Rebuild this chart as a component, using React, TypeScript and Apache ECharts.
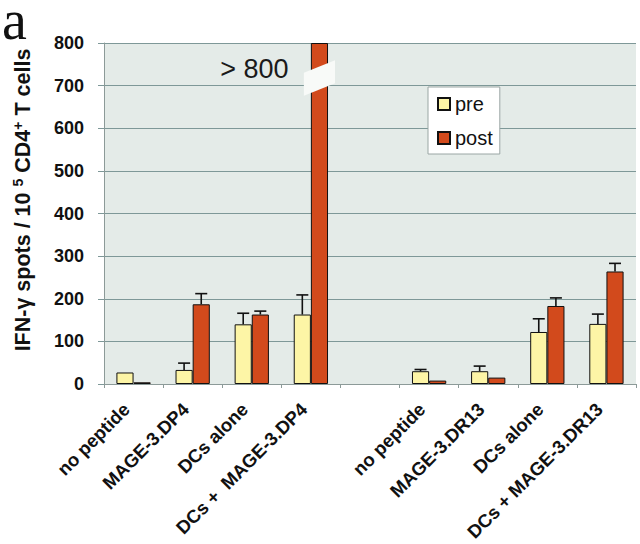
import React, { useEffect, useRef } from "react";
import * as echarts from "echarts";

const categories = [
  "no peptide",
  "MAGE-3.DP4",
  "DCs alone",
  "DCs +  MAGE-3.DP4",
  "",
  "no peptide",
  "MAGE-3.DR13",
  "DCs alone",
  "DCs + MAGE-3.DR13",
];
const preValues: (number | string)[] = [27, 33, 140, 163, "-", 30, 30, 122, 141];
const postValues: (number | string)[] = [4, 187, 163, 800, "-", 8, 15, 183, 264];
// upper end of the error bars (null = none)
const preErrTop: (number | null)[] = [null, 49, 166, 209, null, 34, 42, 153, 164];
const postErrTop: (number | null)[] = [null, 212, 171, null, null, null, null, 202, 283];
const yTicks = { min: 0, max: 800, interval: 100 };
const breakCategory = 3;
const breakValue = 718;
const breakLabel = "> 800";

const FONT = "'Liberation Sans', Arial, Helvetica, sans-serif";
const CAT_GAP = 0.42;

function errSeries(vals: (number | string)[], tops: (number | null)[], side: number) {
  const data: number[][] = [];
  tops.forEach((t, i) => {
    if (t != null && typeof vals[i] === "number") data.push([i, vals[i] as number, t]);
  });
  return {
    type: "custom",
    data,
    z: 5,
    silent: true,
    renderItem: (_p: any, api: any) => {
      const i = api.value(0);
      const base = api.coord([i, api.value(1)]);
      const top = api.coord([i, api.value(2)]);
      const bw = (api.size([1, 0])[0] * (1 - CAT_GAP)) / 2;
      const x = base[0] + (side * bw) / 2;
      const cap = 6;
      const st = { stroke: "#111", lineWidth: 1.6 };
      return {
        type: "group",
        children: [
          { type: "line", shape: { x1: x, y1: base[1], x2: x, y2: top[1] }, style: st },
          { type: "line", shape: { x1: x - cap, y1: top[1], x2: x + cap, y2: top[1] }, style: st },
        ],
      };
    },
  };
}

export default function App() {
  const ref = useRef<HTMLDivElement>(null);
  useEffect(() => {
    const chart = echarts.init(ref.current!, undefined, { renderer: "svg" });
    const option: any = {
      animation: false,
      backgroundColor: "#ffffff",
      textStyle: { fontFamily: FONT },
      grid: {
        left: 104,
        top: 43,
        width: 532,
        height: 341,
        show: true,
        backgroundColor: "#e4ebe8",
        borderWidth: 0,
      },
      legend: {
        data: ["pre", "post"],
        orient: "vertical",
        left: 428,
        top: 87,
        padding: [7, 7, 6, 9],
        itemGap: 14,
        itemWidth: 12,
        itemHeight: 12,
        icon: "rect",
        backgroundColor: "#ffffff",
        borderColor: "#9aa6a4",
        borderWidth: 1,
        textStyle: { fontSize: 20, color: "#111", fontFamily: FONT },
      },
      xAxis: {
        type: "category",
        data: categories,
        axisLine: { lineStyle: { color: "#8c9a98", width: 1 } },
        axisTick: { show: true, length: 4, lineStyle: { color: "#8c9a98" } },
        axisLabel: {
          interval: 0,
          rotate: 45,
          fontSize: 18.5,
          fontWeight: "bold",
          color: "#111",
          fontFamily: FONT,
          margin: 15,
          padding: [0, 10, 0, 0],
        },
      },
      yAxis: {
        type: "value",
        min: yTicks.min,
        max: yTicks.max,
        interval: yTicks.interval,
        axisLine: { show: true, lineStyle: { color: "#8c9a98" } },
        axisTick: { show: true, length: 6, lineStyle: { color: "#7e9898" } },
        splitLine: { lineStyle: { color: "#7e9898", width: 1 } },
        axisLabel: {
          fontSize: 18,
          fontWeight: "bold",
          color: "#111",
          fontFamily: FONT,
          margin: 20,
        },
      },
      series: [
        {
          name: "pre",
          type: "bar",
          data: preValues,
          barGap: "0%",
          barCategoryGap: CAT_GAP * 100 + "%",
          itemStyle: { color: "#fdf5a6", borderColor: "#111", borderWidth: 1 },
        },
        {
          name: "post",
          type: "bar",
          data: postValues,
          barGap: "0%",
          barCategoryGap: CAT_GAP * 100 + "%",
          itemStyle: { color: "#d24a1c", borderColor: "#111", borderWidth: 1 },
        },
        errSeries(preValues, preErrTop, -1),
        errSeries(postValues, postErrTop, 1),
        {
          type: "custom",
          data: [[breakCategory, breakValue]],
          z: 6,
          silent: true,
          renderItem: (_p: any, api: any) => {
            const c = api.coord([api.value(0), api.value(1)]);
            const bw = (api.size([1, 0])[0] * (1 - CAT_GAP)) / 2;
            const cx = c[0] + bw / 2;
            const cy = c[1];
            const ext = bw / 2 + 7;
            const s = 0.4;
            const h = 11.5;
            return {
              type: "group",
              children: [
                {
                  type: "polygon",
                  shape: {
                    points: [
                      [cx - ext, cy + s * ext - h],
                      [cx + ext, cy - s * ext - h],
                      [cx + ext, cy - s * ext + h],
                      [cx - ext, cy + s * ext + h],
                    ],
                  },
                  style: { fill: "#f8faf8" },
                },
                {
                  type: "text",
                  x: cx - 31,
                  y: cy - 9,
                  style: {
                    text: breakLabel,
                    textAlign: "right",
                    textVerticalAlign: "middle",
                    fontSize: 27,
                    fill: "#1a1a1a",
                    fontFamily: FONT,
                  },
                },
              ],
            };
          },
        },
      ],
      graphic: [
        {
          type: "text",
          x: 2,
          y: 20,
          style: {
            text: "a",
            fontFamily: "'Liberation Serif', 'Times New Roman', serif",
            fontSize: 56,
            fill: "#111",
            textVerticalAlign: "middle",
          },
        },
        {
          type: "text",
          x: 23,
          y: 200,
          rotation: Math.PI / 2,
          style: {
            text: "{m|IFN-γ spots / 10 }{s|5}{m| CD4}{s|+}{m| T cells}",
            textAlign: "center",
            textVerticalAlign: "middle",
            rich: {
              m: { fontSize: 21.5, fontWeight: "bold", fontFamily: FONT, fill: "#111", lineHeight: 25 },
              s: { fontSize: 14, fontWeight: "bold", fontFamily: FONT, fill: "#111", lineHeight: 25, verticalAlign: "top" },
            },
          },
        },
      ],
    };
    chart.setOption(option);
    return () => chart.dispose();
  }, []);
  return (
    <div
      ref={ref}
      style={{ position: "fixed", left: 0, top: 0, width: 640, height: 544 }}
    />
  );
}
